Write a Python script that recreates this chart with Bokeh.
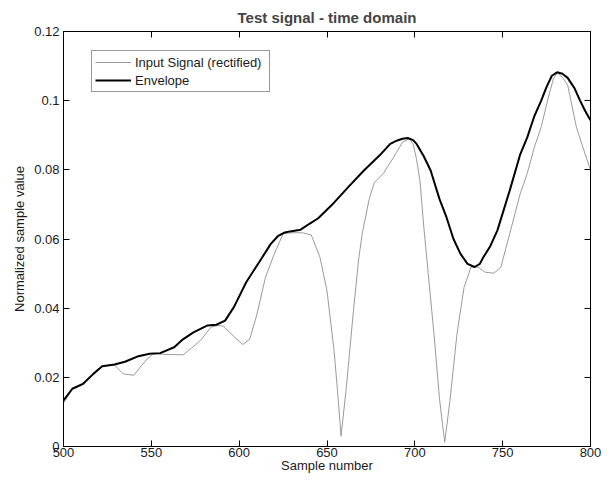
from bokeh.plotting import figure
from bokeh.models import Range1d, LinearAxis, FixedTicker, Legend, LegendItem
from bokeh.embed import file_html
from bokeh.resources import INLINE

# ---- data ----
input_x = [500, 505, 511, 517, 522, 529, 534, 540, 543, 547, 551, 556, 561, 568, 573,
           578, 584, 588, 591, 597, 602, 606, 610, 615, 620, 625, 630, 636, 641, 646,
           650, 654, 656, 658, 661, 665, 668, 670, 674, 677, 682, 688, 693, 697, 699,
           701, 703, 705, 708, 711, 714, 717, 720, 724, 728, 732, 736, 740, 745, 749,
           754, 760, 764, 768, 772, 776, 779, 781, 784, 787, 792, 796, 800]
input_y = [0.0125, 0.0165, 0.0178, 0.0210, 0.0232, 0.0236, 0.0210, 0.0206, 0.0225, 0.0250,
           0.0268, 0.0267, 0.0266, 0.0265, 0.0285, 0.0307, 0.0345, 0.0350, 0.0348, 0.0318,
           0.0295, 0.0310, 0.0380, 0.0490, 0.0557, 0.0615, 0.0618, 0.0618, 0.0612, 0.0547,
           0.0450, 0.0278, 0.0160, 0.0030, 0.0170, 0.0390, 0.0540, 0.0615, 0.0715, 0.0764,
           0.0789, 0.0837, 0.0880, 0.0890, 0.0875, 0.0830, 0.0765, 0.0640, 0.0480, 0.0320,
           0.0140, 0.0012, 0.0133, 0.0326, 0.0460, 0.0519, 0.0519, 0.0504, 0.0501, 0.0519,
           0.0615, 0.0731, 0.0790, 0.0865, 0.0925, 0.1010, 0.1065, 0.1080, 0.1068, 0.1045,
           0.0923, 0.0860, 0.0800]

env_x = [500, 505, 511, 517, 522, 529, 535, 542, 549, 555, 563, 568, 574, 582, 587,
         592, 597, 604, 612, 618, 622, 626, 629, 635, 640, 645, 654, 663, 671, 680, 686,
         690, 693, 696, 699, 701, 705, 709, 714, 718, 722, 726, 730, 734, 737, 739, 743, 747,
         754, 760, 764, 768, 772, 775, 778, 781, 784, 787, 791, 794, 797, 800]
env_y = [0.0133, 0.0167, 0.0181, 0.0210, 0.0232, 0.0237, 0.0245, 0.0260, 0.0268, 0.0270,
         0.0287, 0.0310, 0.0330, 0.0350, 0.0352, 0.0364, 0.0403, 0.0475, 0.0538, 0.0586,
         0.0608, 0.0619, 0.0622, 0.0627, 0.0644, 0.0660, 0.0705, 0.0755, 0.0798, 0.0842, 0.0875,
         0.0885, 0.0890, 0.0892, 0.0886, 0.0875, 0.0840, 0.0798, 0.0716, 0.0663, 0.0600, 0.0557,
         0.0528, 0.0519, 0.0528, 0.0547, 0.0580, 0.0625, 0.0740, 0.0845, 0.0894, 0.0955, 0.1001,
         0.1040, 0.1072, 0.1082, 0.1078, 0.1066, 0.1035, 0.1001, 0.0970, 0.0943]

xtick_vals = [500, 550, 600, 650, 700, 750, 800]
ytick_vals = [0, 0.02, 0.04, 0.06, 0.08, 0.1, 0.12]
ytick_labels = ["0", "0.02", "0.04", "0.06", "0.08", "0.1", "0.12"]

FONT = "Liberation Sans"

p = figure(frame_width=527, frame_height=415,
           x_range=Range1d(500, 800), y_range=Range1d(0, 0.12),
           output_backend="svg", toolbar_location=None,
           min_border_left=63, min_border_right=13, min_border_top=31, min_border_bottom=0,
           background_fill_color="white", border_fill_color="white")

p.title.text = "Test signal - time domain"
p.title.align = "center"
p.title.text_font = FONT
p.title.text_font_size = "15px"
p.title.text_font_style = "bold"
p.title.standoff = 12

p.grid.visible = False
p.outline_line_color = "black"

def style_axis(ax, ticks, labels):
    ax.ticker = FixedTicker(ticks=ticks)
    ax.major_tick_in = 6
    ax.major_tick_out = 0
    ax.minor_tick_line_color = None
    ax.axis_line_color = "black"
    ax.major_tick_line_color = "black"
    ax.major_label_text_font = FONT
    ax.major_label_text_color = "#1a1a1a"
    ax.major_label_text_font_size = "13px"
    ax.major_label_overrides = {v: s for v, s in zip(ticks, labels)}

style_axis(p.xaxis[0], xtick_vals, [str(v) for v in xtick_vals])
style_axis(p.yaxis[0], ytick_vals, ytick_labels)
p.xaxis.major_label_standoff = 1
p.yaxis.major_label_standoff = 4

p.xaxis.axis_label = "Sample number"
p.yaxis.axis_label = "Normalized sample value"
for ax in (p.xaxis[0], p.yaxis[0]):
    ax.axis_label_text_font = FONT
    ax.axis_label_text_font_size = "13px"
    ax.axis_label_text_font_style = "normal"
    ax.axis_label_text_color = "#1a1a1a"
p.xaxis.axis_label_standoff = -2
p.yaxis.axis_label_standoff = 4

top_ax = LinearAxis()
right_ax = LinearAxis()
style_axis(top_ax, xtick_vals, ["" for v in xtick_vals])
style_axis(right_ax, ytick_vals, ["" for v in ytick_vals])
top_ax.major_label_standoff = 0
right_ax.major_label_standoff = 0
p.add_layout(top_ax, "above")
p.add_layout(right_ax, "right")

r_in = p.line(input_x, input_y, line_color="#9a9a9a", line_width=1)
r_env = p.line(env_x, env_y, line_color="black", line_width=2, line_join="round")

legend = Legend(items=[LegendItem(label="Input Signal (rectified)", renderers=[r_in]),
                       LegendItem(label="Envelope", renderers=[r_env])],
                location=(28, 354), margin=0, padding=3, spacing=2,
                glyph_width=36, glyph_height=16, label_height=16, label_standoff=4,
                label_width=131,
                label_text_font=FONT, label_text_font_size="13px", label_text_color="#1a1a1a",
                border_line_color="#333333", border_line_width=1,
                background_fill_color="white", background_fill_alpha=1.0)
p.add_layout(legend, "center")

open("out.html", "w").write(file_html(p, INLINE))
